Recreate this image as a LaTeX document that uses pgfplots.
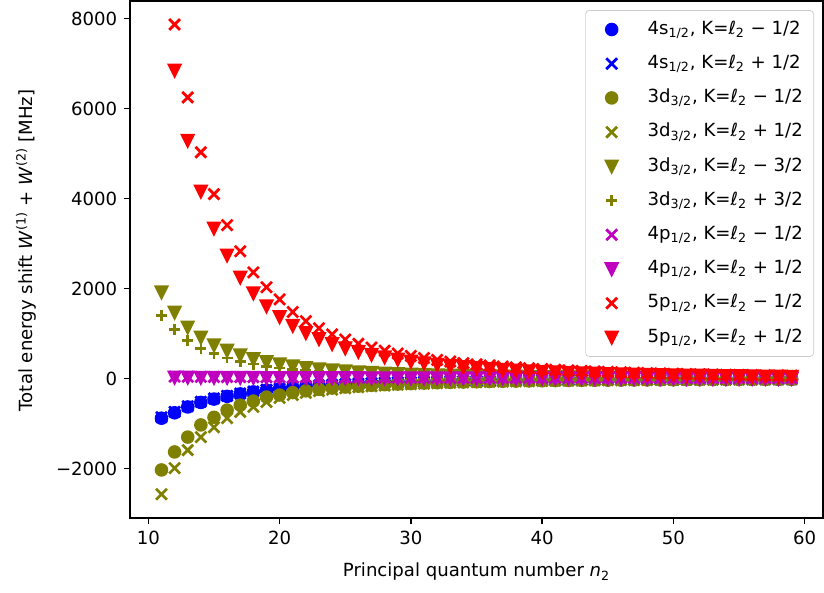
\documentclass[border=0pt]{standalone}
\usepackage{pgfplots}
\pgfplotsset{compat=1.18}
\usepackage{pgfplotstable}
\usepackage{fontspec}
\setmainfont{DejaVu Sans}
\definecolor{mblue}{rgb}{0,0,1}
\definecolor{molive}{HTML}{808000}
\definecolor{mmag}{HTML}{BF00BF}
\definecolor{mred}{HTML}{FF0000}
\pgfdeclareplotmark{vtri}{%
 \pgfpathmoveto{\pgfqpoint{0pt}{-\pgfplotmarksize}}%
 \pgfpathlineto{\pgfqpoint{-\pgfplotmarksize}{\pgfplotmarksize}}%
 \pgfpathlineto{\pgfqpoint{\pgfplotmarksize}{\pgfplotmarksize}}%
 \pgfpathclose\pgfusepathqfillstroke}
\pgfdeclareplotmark{mcirc}{%
 \pgfpathcircle{\pgfpointorigin}{1.25\pgfplotmarksize}%
 \pgfusepathqfill}
\pgfdeclareplotmark{mx}{%
 \pgfpathmoveto{\pgfqpoint{-\pgfplotmarksize}{-\pgfplotmarksize}}%
 \pgfpathlineto{\pgfqpoint{\pgfplotmarksize}{\pgfplotmarksize}}%
 \pgfpathmoveto{\pgfqpoint{-\pgfplotmarksize}{\pgfplotmarksize}}%
 \pgfpathlineto{\pgfqpoint{\pgfplotmarksize}{-\pgfplotmarksize}}%
 \pgfusepathqstroke}
\pgfdeclareplotmark{mplus}{%
 \pgfpathmoveto{\pgfqpoint{-\pgfplotmarksize}{0pt}}%
 \pgfpathlineto{\pgfqpoint{\pgfplotmarksize}{0pt}}%
 \pgfpathmoveto{\pgfqpoint{0pt}{\pgfplotmarksize}}%
 \pgfpathlineto{\pgfqpoint{0pt}{-\pgfplotmarksize}}%
 \pgfusepathqstroke}

\pgfplotstableread{
n bc bx oc ox ot op
11 -880 -860 -2030 -2570 1920 1410
12 -760 -740 -1630 -1990 1470 1086
13 -630 -615 -1300 -1590 1140 840
14 -530 -515 -1030 -1300 915 670
15 -455 -440 -860 -1080 745 556
16 -395 -385 -700 -880 624 458
17 -340 -330 -590 -740 520 382
18 -295 -287 -500 -630 438 322
19 -258 -250 -410 -520 373 274
20 -226 -220 -365 -430 319 235
21 -199 -193 -311 -365 276 203
22 -176 -171 -272 -317 240 176
23 -157 -152 -239 -278 210 154
24 -141 -137 -211 -245 185 136
25 -127 -123 -188 -216 164 120
26 -114 -111 -168 -192 145 107
27 -104 -101 -150 -172 130 95
28 -94 -91 -135 -154 116 85
29 -86 -83 -122 -139 105 77
30 -79 -77 -111 -125 95 70
31 -72 -70 -101 -113 86 63
32 -67 -65 -92 -103 78 57
33 -61 -59 -84 -94 71 52
34 -57 -55 -77 -86 65 48
35 -53 -51 -71 -79 60 44
36 -49 -48 -65 -72 55 40
37 -46 -45 -60 -67 50 37
38 -43 -42 -56 -62 47 34
39 -40 -39 -52 -57 43 32
40 -37 -36 -48 -53 40 29
41 -35 -34 -45 -49 37 27
42 -33 -32 -42 -46 34 25
43 -31 -30 -39 -43 32 24
44 -29 -28 -36 -40 30 22
45 -27 -26 -34 -37 28 21
46 -26 -25 -32 -35 26 19
47 -25 -24 -30 -33 25 18
48 -23 -22 -28 -31 23 17
49 -22 -21 -27 -29 22 16
50 -21 -20 -25 -27 20 15
51 -20 -19 -24 -25 19 14
52 -19 -18 -23 -24 18 13
53 -18 -17 -22 -23 17 13
54 -17 -17 -21 -21 16 12
55 -17 -16 -20 -20 15 11
56 -16 -15 -19 -19 15 11
57 -15 -15 -18 -18 14 10
58 -15 -14 -17 -17 13 10
59 -14 -14 -16 -16 12 9
}\tabA

\pgfplotstableread{
n mx mt rx rt
12 45 27 7870 6850
13 42 25 6250 5290
14 39 23 5030 4160
15 37 22 4100 3340
16 35 21 3410 2740
17 33 20 2830 2250
18 31 19 2360 1900
19 29 17 2030 1610
20 28 17 1760 1370
21 26 16 1480 1175
22 25 15 1277 1015
23 24 14 1118 882
24 23 14 984 771
25 22 13 870 678
26 21 13 774 600
27 20 12 691 532
28 20 12 620 475
29 19 11 558 425
30 18 11 504 382
31 18 11 457 345
32 17 10 415 312
33 16 10 378 283
34 16 10 346 258
35 15 9 317 235
36 15 9 291 215
37 15 9 268 197
38 14 8 248 181
39 14 8 229 167
40 13 8 213 154
41 13 8 197 143
42 13 8 184 132
43 12 7 171 123
44 12 7 160 114
45 12 7 149 106
46 12 7 140 99
47 11 7 131 93
48 11 7 123 87
49 11 7 116 81
50 11 7 109 76
51 10 6 103 72
52 10 6 97 68
53 10 6 91 64
54 10 6 86 60
55 10 6 82 57
56 10 6 77 53
57 9 6 73 51
58 9 5 70 48
59 9 5 66 45
}\tabB

\begin{document}
\begin{tikzpicture}
\useasboundingbox (-71.8pt,-40.9pt) rectangle (383.4pt,286.2pt);
\begin{axis}[
 at={(0,0)}, anchor=south west,
 scale only axis, width=382.9pt, height=285.6pt,
 xmin=8.6, xmax=61.4, ymin=-3100, ymax=8390,
 xtick={10,20,30,40,50,60},
 xticklabels={10,20,30,40,50,60},
 ytick={-2000,0,2000,4000,6000,8000},
 yticklabels={−2000,0,2000,4000,6000,8000},
 tick align=outside, tick pos=left,
 major tick length=3.5pt,
 every tick/.style={black, line width=0.8pt},
 axis line style={line width=0.8pt},
 ticklabel style={font=\fontsize{10}{12}\selectfont},
 label style={font=\fontsize{10}{12}\selectfont},
 xlabel={Principal quantum number \textit{n}\textsubscript{2}},
 ylabel={Total energy shift \textit{W}\textsuperscript{(1)} + \textit{W}\textsuperscript{(2)} [MHz]},
 xlabel style={at={(axis description cs:0.5,-0.1043)}, anchor=center},
 ylabel style={at={(axis description cs:-0.150,0.518)}, anchor=center},
 legend cell align=left,
 legend image code/.code={%
   \path[draw=none, fill=none] (0pt,-1pt) rectangle (16.8pt,1pt);
   \draw[#1] plot coordinates {(8.4pt,0pt)};},
 legend style={at={(1,1)}, anchor=north east, xshift=-5pt, yshift=-5pt,
   draw=black!20, rounded corners=2pt, fill=white,
   font=\fontsize{10}{12}\selectfont, inner xsep=6pt, inner ysep=5.5pt,
   row sep=8.9pt, column sep=11.5pt,
   nodes={inner sep=0pt, text height=7.6pt, text depth=2.4pt}},
 every axis plot/.append style={only marks, mark size=3pt, mark options={line width=1.5pt, solid}},
]
\addplot[mblue, mark=mcirc] table[x=n, y=bc] {\tabA};
\addlegendentry{4s\textsubscript{1/2}, K=ℓ\textsubscript{2} − 1/2}
\addplot[mblue, mark=mx] table[x=n, y=bx] {\tabA};
\addlegendentry{4s\textsubscript{1/2}, K=ℓ\textsubscript{2} + 1/2}
\addplot[molive, mark=mcirc] table[x=n, y=oc] {\tabA};
\addlegendentry{3d\textsubscript{3/2}, K=ℓ\textsubscript{2} − 1/2}
\addplot[molive, mark=mx] table[x=n, y=ox] {\tabA};
\addlegendentry{3d\textsubscript{3/2}, K=ℓ\textsubscript{2} + 1/2}
\addplot[molive, mark=vtri] table[x=n, y=ot] {\tabA};
\addlegendentry{3d\textsubscript{3/2}, K=ℓ\textsubscript{2} − 3/2}
\addplot[molive, mark=mplus] table[x=n, y=op] {\tabA};
\addlegendentry{3d\textsubscript{3/2}, K=ℓ\textsubscript{2} + 3/2}
\addplot[mmag, mark=mx] table[x=n, y=mx] {\tabB};
\addlegendentry{4p\textsubscript{1/2}, K=ℓ\textsubscript{2} − 1/2}
\addplot[mmag, mark=vtri] table[x=n, y=mt] {\tabB};
\addlegendentry{4p\textsubscript{1/2}, K=ℓ\textsubscript{2} + 1/2}
\addplot[mred, mark=mx] table[x=n, y=rx] {\tabB};
\addlegendentry{5p\textsubscript{1/2}, K=ℓ\textsubscript{2} − 1/2}
\addplot[mred, mark=vtri] table[x=n, y=rt] {\tabB};
\addlegendentry{5p\textsubscript{1/2}, K=ℓ\textsubscript{2} + 1/2}
\end{axis}
\end{tikzpicture}
\end{document}
